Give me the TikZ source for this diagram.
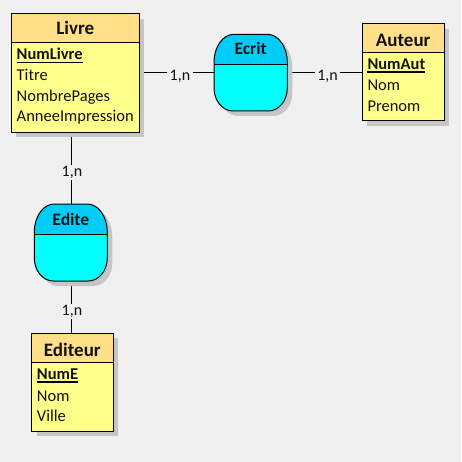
\documentclass[tikz,border=0pt]{standalone}
\usepackage{fontspec}
\setmainfont{Carlito}
\usetikzlibrary{shadows}
\definecolor{bgc}{HTML}{F0F0F0}
\definecolor{headc}{HTML}{FFDF88}
\definecolor{bodyc}{HTML}{FFFF8C}
\definecolor{atop}{HTML}{00CCF8}
\definecolor{abot}{HTML}{00FFFF}
\definecolor{txt}{HTML}{111111}
\definecolor{shad}{HTML}{C6C6C6}
\begin{document}
\begin{tikzpicture}[x=1pt,y=-1pt,
  shadowed/.style={drop shadow={shadow xshift=5pt,shadow yshift=-5pt,fill=shad,opacity=1}},
  entity/.style={draw=black, line width=1pt, fill=bodyc, inner sep=0pt, shadowed,
    path picture={\fill[headc] (path picture bounding box.north west) rectangle ([yshift=-#1]path picture bounding box.north east);}},
  assocshape/.style={draw=black, line width=1pt, fill=abot,
    preaction={fill=shad, transform canvas={xshift=5pt,yshift=-5pt}},
    path picture={\fill[atop] (path picture bounding box.north west) rectangle ([yshift=-30pt]path picture bounding box.north east);}},
  anchorbox/.style={inner sep=0pt, outer sep=0pt},
  etitle/.style={anchor=base, inner sep=0pt, text=txt, font=\bfseries\fontsize{19}{22}\selectfont},
  atitle/.style={anchor=base, inner sep=0pt, text=txt, font=\bfseries\fontsize{17.5}{20}\selectfont},
  attr/.style={anchor=base west, inner sep=0pt, text=txt, font=\fontsize{16.5}{19}\selectfont},
  keyattr/.style={attr, font=\bfseries\fontsize{16.5}{19}\selectfont},
  card/.style={anchor=base, fill=bgc, inner xsep=2.5pt, inner ysep=1.5pt, text=txt, font=\fontsize{16}{18}\selectfont},
  link/.style={draw=black, line width=1pt},
  sep/.style={draw=black, line width=1pt}
]
\fill[bgc] (0,0) rectangle (461,462);
\useasboundingbox (0,0) rectangle (461,462);

% named placeholders for the boxes (used by the connectors)
\node[anchorbox, minimum width=128pt, minimum height=118.3pt] (livre) at (75.3,73.15) {};
\node[anchorbox, minimum width=81.7pt, minimum height=96.7pt] (auteur) at (403.15,72.35) {};
\node[anchorbox, minimum width=81.3pt, minimum height=98pt] (editeur) at (72.35,382) {};
\node[anchorbox, minimum width=73.3pt, minimum height=76.7pt] (ecrit) at (250.65,72.65) {};
\node[anchorbox, minimum width=73pt, minimum height=77pt] (edite) at (71.7,242.5) {};

% connectors (under the boxes)
\draw[link] (ecrit.west -| livre.east) -- (ecrit.west);
\draw[link] (ecrit.east) -- (ecrit.east -| auteur.west);
\draw[link] (edite.north |- livre.south) -- (edite.north);
\draw[link] (edite.south) -- (edite.south |- editeur.north);

% entities
\node[entity=29pt, minimum width=128pt, minimum height=118.3pt] (livrebox) at (livre) {};
\draw[sep] ([yshift=-29pt]livrebox.north west) -- ([yshift=-29pt]livrebox.north east);
\node[entity=29pt, minimum width=81.7pt, minimum height=96.7pt] (auteurbox) at (auteur) {};
\draw[sep] ([yshift=-29pt]auteurbox.north west) -- ([yshift=-29pt]auteurbox.north east);
\node[entity=30pt, minimum width=81.3pt, minimum height=98pt] (editeurbox) at (editeur) {};
\draw[sep] ([yshift=-30pt]editeurbox.north west) -- ([yshift=-30pt]editeurbox.north east);

% associations (rounded shapes)
\path[assocshape] (214+20,34.3) -- (287.3-20,34.3)
  arc[start angle=90,end angle=0,x radius=20pt,y radius=28pt] -- (287.3,111-23)
  arc[start angle=0,end angle=-90,x radius=19pt,y radius=23pt] -- (214+19,111)
  arc[start angle=-90,end angle=-180,x radius=19pt,y radius=23pt] -- (214,34.3+28)
  arc[start angle=180,end angle=90,x radius=20pt,y radius=28pt] -- cycle;
\draw[sep] (214,64.3) -- (287.3,64.3);
\path[assocshape] (34.3+20,204) -- (107.3-20,204)
  arc[start angle=90,end angle=0,x radius=20pt,y radius=28pt] -- (107.3,281-23)
  arc[start angle=0,end angle=-90,x radius=19pt,y radius=23pt] -- (34.3+19,281)
  arc[start angle=-90,end angle=-180,x radius=19pt,y radius=23pt] -- (34.3,204+28)
  arc[start angle=180,end angle=90,x radius=20pt,y radius=28pt] -- cycle;
\draw[sep] (34.3,234) -- (107.3,234);

% titles
\node[etitle] (tlivre) at (75.3,35) {Livre};
\node[etitle] (tauteur) at (403.15,46.7) {Auteur};
\node[etitle] (tediteur) at (72.35,356) {Editeur};
\node[atitle] (tecrit) at (250.65,55) {Ecrit};
\node[atitle] (tedite) at (70.8,225) {Edite};

% attributes
\node[keyattr] (numlivre) at (16.5,60) {NumLivre};
\draw[line width=1.3pt] ([yshift=-2.6pt]numlivre.base west) -- ([yshift=-2.6pt]numlivre.base east);
\node[attr] (titre) at (16.5,81) {Titre};
\node[attr] (nbpages) at (16.5,101.5) {NombrePages};
\node[attr] (annee) at (16.5,122) {AnneeImpression};

\node[keyattr] (numaut) at (367.3,69.3) {NumAut};
\draw[line width=1.3pt] ([yshift=-2.6pt]numaut.base west) -- ([yshift=-2.6pt]numaut.base east);
\node[attr] (nomaut) at (367.3,91) {Nom};
\node[attr] (prenom) at (367.3,111.7) {Prenom};

\node[keyattr] (nume) at (36.7,379.3) {NumE};
\draw[line width=1.3pt] ([yshift=-2.6pt]nume.base west) -- ([yshift=-2.6pt]nume.base east);
\node[attr] (nomed) at (36.7,401) {Nom};
\node[attr] (ville) at (36.7,421.7) {Ville};

% cardinalities
\node[card] (k1) at (180,81) {1,n};
\node[card] (k2) at (327.5,81) {1,n};
\node[card] (k3) at (72,176.7) {1,n};
\node[card] (k4) at (72,315.7) {1,n};
\end{tikzpicture}
\end{document}
